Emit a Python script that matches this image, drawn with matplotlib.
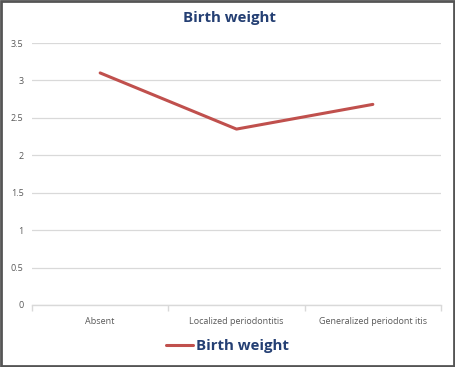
import matplotlib
matplotlib.use('Agg')
import matplotlib.pyplot as plt
from matplotlib.patches import Rectangle

# === Données
categories = ["Absent", "Localized periodontitis", "Generalized periodont itis"]
birth_weight = [3.1, 2.35, 2.68]
y_ticks = [0, 0.5, 1, 1.5, 2, 2.5, 3, 3.5]
y_tick_labels = ["0", "0.5", "1", "1.5", "2", "2.5", "3", "3.5"]

line_color = "#C0504D"
title_color = "#243F73"
text_color = "#595959"
grid_color = "#D9D9D9"

plt.rcParams['font.family'] = ['Open Sans', 'DejaVu Sans']

fig = plt.figure(figsize=(4.55, 3.67), dpi=100)
ax = fig.add_axes([32 / 455, 1 - 305 / 367, (441 - 32) / 455, (305 - 43) / 367])

x = list(range(len(categories)))
ax.plot(x, birth_weight, color=line_color, linewidth=2.2, label="Birth weight",
        solid_capstyle='round', zorder=3)

ax.set_xlim(-0.5, len(categories) - 0.5)
ax.set_ylim(0, 3.5)
ax.set_yticks(y_ticks)
ax.set_yticklabels(y_tick_labels)
ax.set_xticks(x)
ax.set_xticklabels(categories)
ax.tick_params(axis='y', length=0, pad=6, labelsize=6.5, labelcolor=text_color)
ax.tick_params(axis='x', length=0, pad=9, labelsize=6.5, labelcolor=text_color)

# petits traits de séparation des catégories
ax.set_xticks([-0.5, 0.5, 1.5, 2.5], minor=True)
ax.tick_params(axis='x', which='minor', length=4, color=grid_color, width=1)

ax.grid(axis='y', color=grid_color, linewidth=0.9)
ax.set_axisbelow(True)
for s in ["top", "right", "left"]:
    ax.spines[s].set_visible(False)
ax.spines["bottom"].set_color(grid_color)
ax.spines["bottom"].set_linewidth(1)

fig.text(229 / 455, 1 - 18 / 367, "Birth weight", ha='center', va='center',
         fontsize=10.8, fontweight='bold', color=title_color)

leg = fig.legend(loc='center', bbox_to_anchor=(227 / 455, 1 - 346 / 367), frameon=False,
                 handlelength=1.8, handletextpad=0.2, prop={'size': 10.8, 'weight': 'bold'})
for t in leg.get_texts():
    t.set_color(title_color)

# cadre gris autour de la figure
fig.patches.append(Rectangle((0.002, 0.003), 0.995, 0.994, transform=fig.transFigure,
                             fill=False, edgecolor="#555555", linewidth=2))

plt.savefig("out.png", dpi=100)
